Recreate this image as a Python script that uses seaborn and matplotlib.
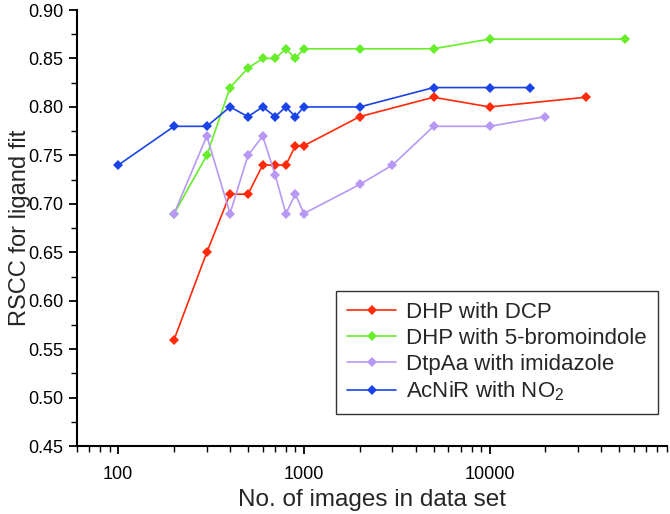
import matplotlib
matplotlib.use("Agg")
import matplotlib.pyplot as plt
import seaborn as sns
import pandas as pd
from matplotlib.ticker import FixedLocator, MultipleLocator, NullFormatter

# data
dcp_x = [200, 300, 400, 500, 600, 700, 800, 900, 1000, 2000, 5000, 10000, 33000]
dcp_y = [0.56, 0.65, 0.71, 0.71, 0.74, 0.74, 0.74, 0.76, 0.76, 0.79, 0.81, 0.80, 0.81]

brom_x = [200, 300, 400, 500, 600, 700, 800, 900, 1000, 2000, 5000, 10000, 54000]
brom_y = [0.69, 0.75, 0.82, 0.84, 0.85, 0.85, 0.86, 0.85, 0.86, 0.86, 0.86, 0.87, 0.87]

imid_x = [200, 300, 400, 500, 600, 700, 800, 900, 1000, 2000, 3000, 5000, 10000, 20000]
imid_y = [0.69, 0.77, 0.69, 0.75, 0.77, 0.73, 0.69, 0.71, 0.69, 0.72, 0.74, 0.78, 0.78, 0.79]

no2_x = [100, 200, 300, 400, 500, 600, 700, 800, 900, 1000, 2000, 5000, 10000, 16500]
no2_y = [0.74, 0.78, 0.78, 0.80, 0.79, 0.80, 0.79, 0.80, 0.79, 0.80, 0.80, 0.82, 0.82, 0.82]

labels = ["DHP with DCP", "DHP with 5-bromoindole", "DtpAa with imidazole", "AcNiR with NO$_2$"]
colors = ["#FF2A0A", "#66EE2A", "#B898F5", "#1A44E8"]

frames = []
for lab, xs, ys in zip(labels, [dcp_x, brom_x, imid_x, no2_x], [dcp_y, brom_y, imid_y, no2_y]):
    frames.append(pd.DataFrame({"images": xs, "rscc": ys, "set": lab}))
df = pd.concat(frames, ignore_index=True)

sns.set_style("ticks")
plt.rcParams["font.family"] = ["Liberation Sans", "DejaVu Sans"]
plt.rcParams["mathtext.fontset"] = "custom"
plt.rcParams["mathtext.rm"] = "Liberation Sans"
plt.rcParams["mathtext.default"] = "regular"

fig = plt.figure(figsize=(6.7, 5.14), dpi=100)
ax = fig.add_axes([0.115, 0.132, 0.88, 0.8485])

sns.lineplot(data=df, x="images", y="rscc", hue="set", hue_order=labels,
             palette=colors, marker="D", markersize=5, markeredgewidth=0,
             linewidth=1.2, estimator=None, sort=False, ax=ax)

ax.set_xscale("log")
ax.set_xlim(60, 90000)
ax.set_ylim(0.45, 0.90)
ax.set_xticks([100, 1000, 10000])
ax.set_xticklabels(["100", "1000", "10000"])
ax.xaxis.set_minor_locator(FixedLocator([m * 10 ** e for e in range(1, 5) for m in range(2, 10)]))
ax.xaxis.set_minor_formatter(NullFormatter())
ax.yaxis.set_major_locator(MultipleLocator(0.05))
ax.yaxis.set_minor_locator(MultipleLocator(0.025))
ax.yaxis.set_major_formatter(matplotlib.ticker.FormatStrFormatter("%.2f"))

for s in ["top", "right"]:
    ax.spines[s].set_visible(False)
for s in ["left", "bottom"]:
    ax.spines[s].set_linewidth(1.5)
    ax.spines[s].set_color("black")
ax.tick_params(which="major", length=6, width=1.3, labelsize=13, colors="black")
ax.tick_params(axis="x", which="major", pad=8)
ax.tick_params(axis="y", which="major", pad=4)
ax.tick_params(which="minor", length=4, width=1.0, colors="black")

ax.set_xlabel("No. of images in data set", fontsize=17.5)
ax.set_ylabel("RSCC for ligand fit", fontsize=17)
ax.xaxis.set_label_coords(0.5, -0.098)
ax.yaxis.set_label_coords(-0.078, 0.5)

leg = ax.legend(loc="lower right", bbox_to_anchor=(0.985, 0.073), fontsize=16,
                frameon=True, fancybox=False, edgecolor="#333333", framealpha=1,
                handlelength=2.2, handletextpad=0.45, borderpad=0.5,
                borderaxespad=0, labelspacing=0.22)
leg.get_frame().set_linewidth(1.0)

fig.savefig("out.png", dpi=100)
